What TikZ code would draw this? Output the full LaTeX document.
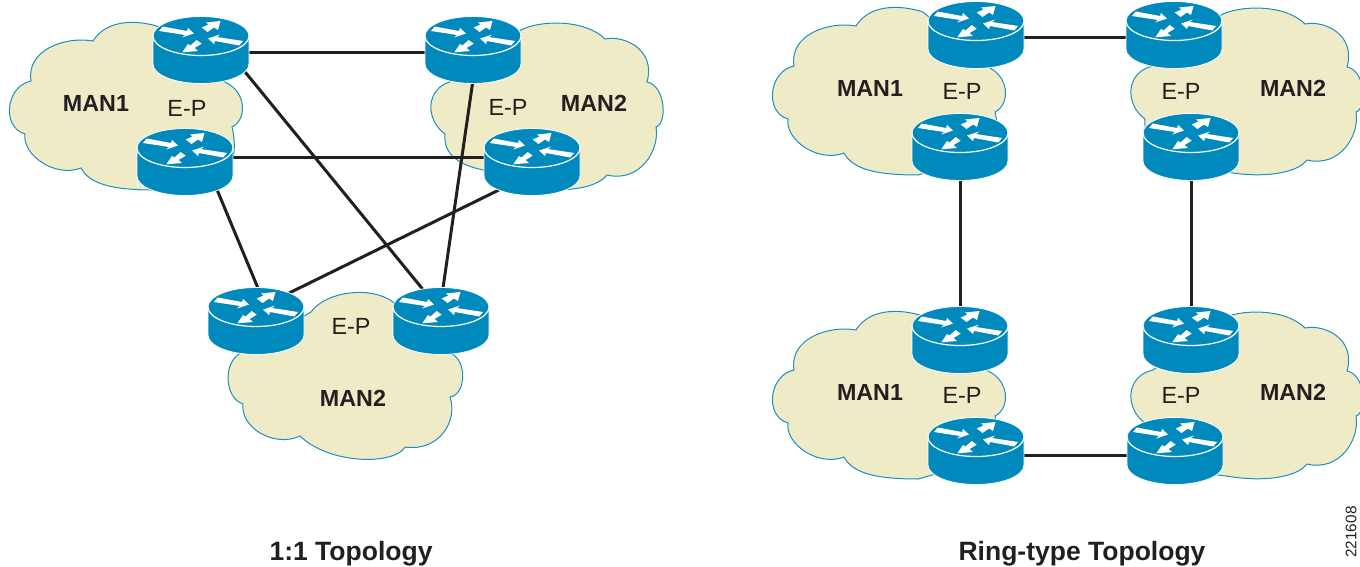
\documentclass[tikz,border=0pt]{standalone}
\usepackage{fontspec}
\setmainfont{Liberation Sans}
\definecolor{cloudfill}{HTML}{F0EBC7}
\definecolor{cloudline}{HTML}{1B8FC1}
\definecolor{routerblue}{HTML}{0089BD}
\definecolor{inkdark}{HTML}{231F20}
\tikzset{
  routerbox/.style={inner sep=0pt,outer sep=0pt,minimum width=96pt,minimum height=66pt},
  cloudshape/.style={fill=cloudfill,draw=cloudline,line width=1pt},
  linkline/.style={draw=inkdark,line width=3pt},
  manlabel/.style={font=\fontsize{23.3}{28}\selectfont\bfseries,text=inkdark,inner sep=0pt},
  eplabel/.style={font=\fontsize{23.4}{28}\selectfont,text=inkdark,inner sep=0pt},
  titlelabel/.style={font=\fontsize{26.5}{32}\selectfont\bfseries,text=inkdark,inner sep=0pt},
  figlabel/.style={font=\fontsize{15.3}{18}\selectfont,text=inkdark,inner sep=0pt,rotate=90}
}
\newcommand{\cloudone}{%
  \path[cloudshape] (160,27)
    .. controls (135,19) and (106,20) .. (93,41)
    .. controls (65,36) and (26,50) .. (31,81)
    .. controls (6,86) and (1,127) .. (25,134)
    .. controls (22,155) and (55,178) .. (81,168)
    .. controls (90,185) and (115,190) .. (155,190)
    -- (226,170) -- (232,160)
    .. controls (236,150) and (234,135) .. (232,127)
    .. controls (247,120) and (247,92) .. (225,82)
    -- cycle;}
\newcommand{\cloudtwo}{%
  \path[cloudshape] (1221,15)
    .. controls (1240,5) and (1285,4) .. (1305,24)
    .. controls (1325,20) and (1356,35) .. (1347,67)
    .. controls (1365,70) and (1368,108) .. (1356,112)
    .. controls (1360,135) and (1340,168) .. (1307,160)
    .. controls (1295,175) and (1260,177) .. (1233,173)
    -- (1210,170) -- (1183,155)
    .. controls (1160,150) and (1143,140) .. (1145,119)
    .. controls (1125,105) and (1125,72) .. (1153,66)
    -- cycle;}
\newcommand{\routerart}[1]{%
  \begin{scope}[shift={(#1)}]
    \begin{scope}[yshift=14pt]
    \path[fill=routerblue,draw=white,line width=0.8pt]
      (-48,0) .. controls (-48,-10.8) and (-26.5,-19.5) .. (0,-19.5)
      .. controls (26.5,-19.5) and (48,-10.8) .. (48,0)
      -- (48,28) .. controls (48,38.8) and (26.5,47.5) .. (0,47.5)
      .. controls (-26.5,47.5) and (-48,38.8) .. (-48,28) -- cycle;
    \path[draw=white,line width=1.2pt]
      (-48,0) .. controls (-48,10.8) and (-26.5,19.5) .. (0,19.5)
      .. controls (26.5,19.5) and (48,10.8) .. (48,0);
    \fill[white] (-38.3,-9.5) -- (-14,-5) -- (-13,-8) -- (-7,-2.5) -- (-19,1.5) -- (-16,-1) -- (-42,-5) -- cycle;
    \fill[white] (38.3,9.5) -- (14,5) -- (13,8) -- (7,2.5) -- (19,-1.5) -- (16,1) -- (42,5) -- cycle;
    \fill[white] (0.7,-8.5) -- (7.5,-11.5) -- (5,-13.5) -- (19.5,-15) -- (17,-6) -- (13,-8.5) -- (6.5,-4) -- cycle;
    \fill[white] (0.7,7.7) -- (-6.5,12) -- (-3,15) -- (-18.7,16.3) -- (-13,8) -- (-10.5,9.5) -- (-4.3,4) -- cycle;
    \end{scope}
  \end{scope}}
\begin{document}
\begin{tikzpicture}[x=1pt,y=-1pt]
\useasboundingbox (0,0) rectangle (1360,567);
% clouds
\cloudone
\begin{scope}[shift={(-700,15)}]\cloudtwo\end{scope}
\begin{scope}[shift={(763,-15)}]\cloudone\end{scope}
\begin{scope}[shift={(763,289)}]\cloudone\end{scope}
\cloudtwo
\begin{scope}[shift={(0,304)}]\cloudtwo\end{scope}
\path[cloudshape] (311,312)
  .. controls (325,292) and (370,285) .. (393,302)
  -- (450,353)
  .. controls (468,360) and (466,395) .. (450,397)
  .. controls (458,420) and (440,452) .. (405,447)
  .. controls (395,465) and (330,465) .. (300,436)
  .. controls (275,448) and (240,428) .. (243,404)
  .. controls (224,398) and (222,360) .. (243,352)
  -- cycle;
% router anchors
\node[routerbox] (ra) at (201,50) {};
\node[routerbox] (rb) at (185,162) {};
\node[routerbox] (rc) at (473,50) {};
\node[routerbox] (rd) at (532,162) {};
\node[routerbox] (re) at (256,321) {};
\node[routerbox] (rf) at (441,321) {};
\node[routerbox] (rg) at (976,35) {};
\node[routerbox] (rh) at (1174,35) {};
\node[routerbox] (ri) at (960,147) {};
\node[routerbox] (rj) at (1191,147) {};
\node[routerbox] (rk) at (960,340) {};
\node[routerbox] (rl) at (1191,340) {};
\node[routerbox] (rm) at (976,451) {};
\node[routerbox] (rn) at (1175,451) {};
% links
\draw[linkline] ([shift={(0,3)}]ra.center) -- ([shift={(0,3)}]rc.center);
\draw[linkline] ([shift={(0,-4)}]rb.center) -- ([shift={(0,-4)}]rd.center);
\draw[linkline] ([shift={(40,17)}]ra.center) -- ([shift={(-16,-29)}]rf.center);
\draw[linkline] ([shift={(0,30)}]rc.center) -- ([shift={(1,-26)}]rf.center);
\draw[linkline] ([shift={(28,18)}]rb.center) -- ([shift={(4,-28)}]re.center);
\draw[linkline] ([shift={(-25,24)}]rd.center) -- ([shift={(25,-24)}]re.center);
\draw[linkline] ([shift={(0,3)}]rg.center) -- ([shift={(0,3)}]rh.center);
\draw[linkline] (ri.center) -- (rk.center);
\draw[linkline] (rj.center) -- (rl.center);
\draw[linkline] ([shift={(0,4)}]rm.center) -- ([shift={(0,4)}]rn.center);
% routers
\routerart{ra}\routerart{rb}\routerart{rc}\routerart{rd}\routerart{re}\routerart{rf}
\routerart{rg}\routerart{rh}\routerart{ri}\routerart{rj}\routerart{rk}\routerart{rl}\routerart{rm}\routerart{rn}
% labels
\node[manlabel] (m1) at (96,103) {MAN1};
\node[eplabel] (e1) at (187,108) {E-P};
\node[manlabel] (m2) at (594,103) {MAN2};
\node[eplabel] (e2) at (508,107) {E-P};
\node[eplabel] (e3) at (351,326) {E-P};
\node[manlabel] (m3) at (353,398) {MAN2};
\node[manlabel] (m4) at (870,88) {MAN1};
\node[eplabel] (e4) at (962,91) {E-P};
\node[manlabel] (m5) at (1293,88) {MAN2};
\node[eplabel] (e5) at (1181,91) {E-P};
\node[manlabel] (m6) at (870,392) {MAN1};
\node[eplabel] (e6) at (962,395) {E-P};
\node[manlabel] (m7) at (1293,392) {MAN2};
\node[eplabel] (e7) at (1181,395) {E-P};
\node[titlelabel] (t1) at (351,554) {1:1 Topology};
\node[titlelabel] (t2) at (1082,554) {Ring-type Topology};
\node[figlabel] (f1) at (1351,532) {221608};
\end{tikzpicture}
\end{document}
